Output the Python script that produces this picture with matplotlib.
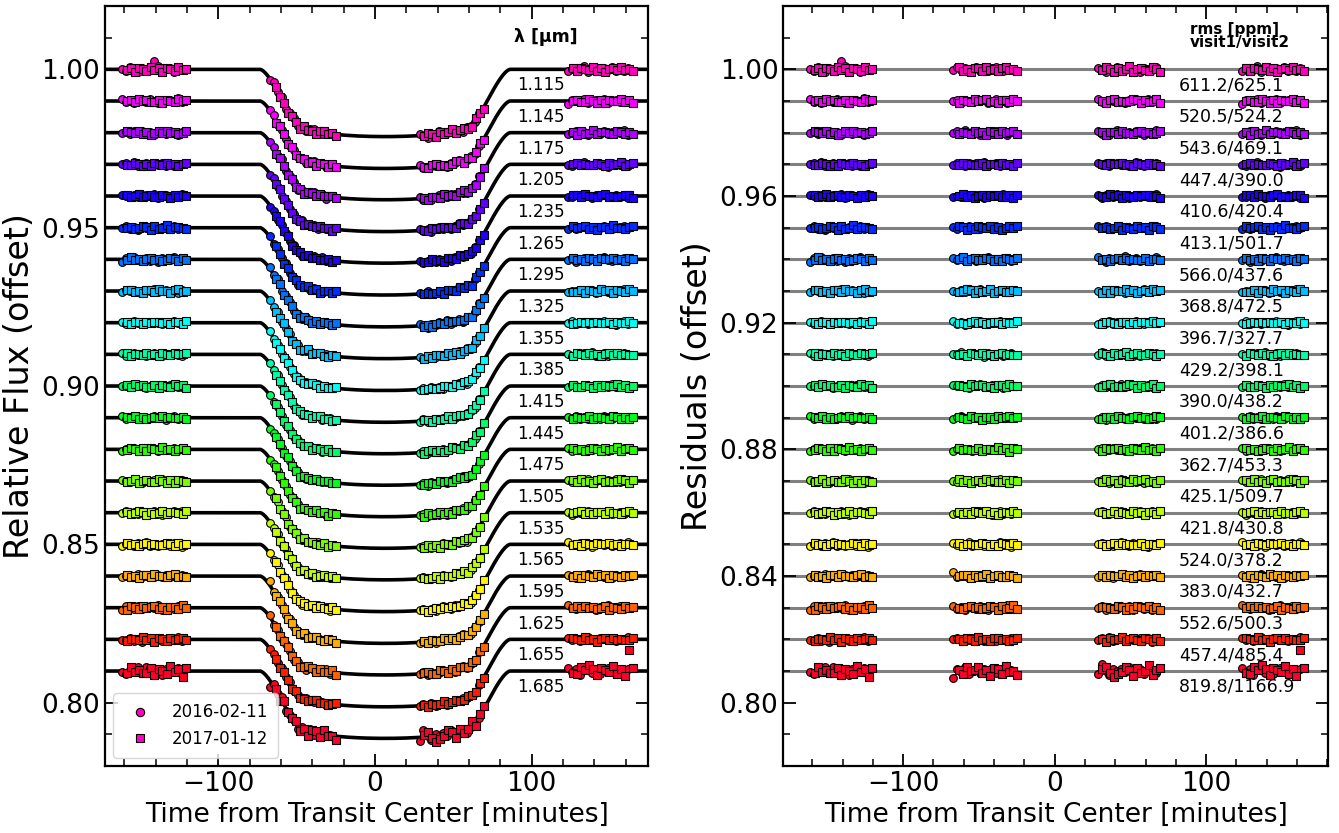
import numpy as np
import matplotlib
matplotlib.use("Agg")
import matplotlib.pyplot as plt
from matplotlib.ticker import MultipleLocator, FormatStrFormatter
from matplotlib.lines import Line2D

# ---------------- data ----------------
wavelengths = ["1.115", "1.145", "1.175", "1.205", "1.235", "1.265", "1.295",
               "1.325", "1.355", "1.385", "1.415", "1.445", "1.475", "1.505",
               "1.535", "1.565", "1.595", "1.625", "1.655", "1.685"]
# channel offsets (top channel is 1.00)
offsets = [1.00, 0.99, 0.98, 0.97, 0.96, 0.95, 0.94, 0.93, 0.92, 0.91, 0.90,
           0.89, 0.88, 0.87, 0.86, 0.85, 0.84, 0.83, 0.82, 0.81]
# planet-to-star radius ratio for each channel (read from transit depth)
rp_rs = [0.1400, 0.1402, 0.1398, 0.1400, 0.1399, 0.1401, 0.1403, 0.1404,
         0.1406, 0.1407, 0.1405, 0.1403, 0.1401, 0.1400, 0.1399, 0.1400,
         0.1401, 0.1400, 0.1402, 0.1401]
rms_v1 = [611.2, 520.5, 543.6, 447.4, 410.6, 413.1, 566.0, 368.8, 396.7, 429.2,
          390.0, 401.2, 362.7, 425.1, 421.8, 524.0, 383.0, 552.6, 457.4, 819.8]
rms_v2 = [625.1, 524.2, 469.1, 390.0, 420.4, 501.7, 437.6, 472.5, 327.7, 398.1,
          438.2, 386.6, 453.3, 509.7, 430.8, 378.2, 432.7, 500.3, 485.4, 1166.9]
rms_labels = ["611.2/625.1", "520.5/524.2", "543.6/469.1", "447.4/390.0",
              "410.6/420.4", "413.1/501.7", "566.0/437.6", "368.8/472.5",
              "396.7/327.7", "429.2/398.1", "390.0/438.2", "401.2/386.6",
              "362.7/453.3", "425.1/509.7", "421.8/430.8", "524.0/378.2",
              "383.0/432.7", "552.6/500.3", "457.4/485.4", "819.8/1166.9"]

# exposure times [minutes from transit centre]
t_visit1 = [-161.5, -159.0, -156.4, -153.9, -151.3, -148.8, -146.2, -143.7,
            -141.1, -138.6, -136.0, -133.5, -130.9, -128.4, -125.8, -123.3,
            -67.0, -64.5, -61.9, -59.4, -56.8, -54.3, -51.7, -49.2,
            -46.6, -44.1, -41.5, -39.0, -36.4, -33.9, -31.3, -28.8,
            28.5, 31.0, 33.6, 36.1, 38.7, 41.2, 43.8, 46.3,
            48.9, 51.4, 54.0, 56.5, 59.1, 61.6, 64.2, 66.7,
            123.5, 126.0, 128.6, 131.1, 133.7, 136.2, 138.8, 141.3,
            143.9, 146.4, 149.0, 151.5, 154.1, 156.6, 159.2, 161.7]
t_visit2 = [-158.5, -156.0, -153.4, -150.9, -148.3, -145.8, -143.2, -140.7,
            -138.1, -135.6, -133.0, -130.5, -127.9, -125.4, -122.8, -120.3,
            -63.0, -60.5, -57.9, -55.4, -52.8, -50.3, -47.7, -45.2,
            -42.6, -40.1, -37.5, -35.0, -32.4, -29.9, -27.3, -24.8,
            31.5, 34.0, 36.6, 39.1, 41.7, 44.2, 46.8, 49.3,
            51.9, 54.4, 57.0, 59.5, 62.1, 64.6, 67.2, 69.7,
            126.5, 129.0, 131.6, 134.1, 136.7, 139.2, 141.8, 144.3,
            146.9, 149.4, 152.0, 154.5, 157.1, 159.6, 162.2, 164.7]

# residual pattern (in units of the channel rms), estimated from the scatter
pattern_v1 = [0.3, -0.8, 1.1, 0.2, -1.4, 0.6, -0.1, 0.9, -0.5, 1.6, -0.9, 0.1, 0.7, -1.2, 0.4, -0.3,
              -0.6, 1.2, -0.2, 0.8, -1.5, 0.3, 1.0, -0.7, 0.2, -1.1, 0.5, 1.3, -0.4, -0.9, 0.6, 0.0,
              0.9, -0.3, -1.3, 0.5, 0.2, 1.4, -0.6, -0.2, 1.0, -0.8, 0.4, -1.6, 0.7, 0.1, -0.5, 1.1,
              -1.0, 0.4, 0.8, -0.3, 1.5, -1.2, 0.0, 0.6, -0.7, 0.9, -0.4, 1.2, -0.9, 0.3, -1.1, 0.5]
pattern_v2 = [-0.4, 0.9, -1.2, 0.5, 0.1, -0.7, 1.3, -0.2, 0.6, -1.5, 0.8, 0.3, -0.9, 1.1, -0.1, 0.4,
              1.0, -0.6, 0.2, -1.3, 0.7, 0.5, -0.8, 1.4, -0.3, 0.0, -1.0, 0.6, 1.2, -0.5, 0.3, -0.9,
              -0.2, 1.1, 0.4, -1.4, 0.8, -0.6, 0.1, 1.5, -1.1, 0.3, 0.7, -0.4, -0.8, 1.0, 0.2, -1.2,
              0.6, -1.0, 0.9, 0.2, -0.3, 1.3, -0.7, 0.5, -1.4, 0.0, 0.8, -0.5, 1.1, -0.2, 0.4, -0.6]
# individual outliers: (channel, visit, exposure index, residual)
outliers = [(0, 1, 8, 0.0025), (19, 2, 62, 0.0065), (19, 1, 16, -0.0022),
            (19, 1, 32, -0.0010), (19, 1, 33, 0.0022), (19, 2, 35, -0.0020),
            (19, 2, 52, 0.0018), (19, 1, 6, 0.0012), (16, 1, 16, 0.0013)]

# transit model parameters
t_mid = 6.5        # minutes
half_t14 = 79.8    # minutes
impact = 0.5
ld_u1, ld_u2 = 0.22, 0.22


def transit_model(t, p):
    t = np.atleast_1d(np.asarray(t, float))
    x = (t - t_mid) / half_t14 * np.sqrt((1 + p) ** 2 - impact ** 2)
    z = np.sqrt(x ** 2 + impact ** 2)
    n = 1500
    r = (np.arange(n) + 0.5) / n
    dr = 1.0 / n
    mu = np.sqrt(1 - r ** 2)
    inten = 1 - ld_u1 * (1 - mu) - ld_u2 * (1 - mu) ** 2
    w = inten * 2 * np.pi * r * dr
    total = w.sum()
    Z = z[:, None]
    R = r[None, :]
    cosang = np.clip((R ** 2 + Z ** 2 - p ** 2) / (2 * R * Z + 1e-12), -1, 1)
    frac = np.where(R + Z <= p, 1.0,
                    np.where(np.abs(R - Z) >= p, 0.0, np.arccos(cosang) / np.pi))
    return 1 - (frac * w[None, :]).sum(axis=1) / total


# ---------------- figure ----------------
plt.rcParams['font.family'] = ['DejaVu Sans']
fig = plt.figure(figsize=(13.39, 8.33), dpi=100)
ax1 = fig.add_axes([0.0784, 0.0804, 0.4056, 0.9124])
ax2 = fig.add_axes([0.585, 0.0804, 0.407, 0.9124])

nch = len(offsets)
colors = plt.cm.gist_rainbow(np.linspace(1, 0, nch))
tv1 = np.array(t_visit1)
tv2 = np.array(t_visit2)
tgrid = np.linspace(-180, 180, 721)
MS = 5.6
MEW = 0.8

for i in range(nch):
    off = offsets[i]
    p = rp_rs[i]
    res1 = np.roll(np.array(pattern_v1), 5 * i) * rms_v1[i] * 1e-6
    res2 = np.roll(np.array(pattern_v2), 7 * i) * rms_v2[i] * 1e-6
    for (ch, v, k, val) in outliers:
        if ch == i:
            if v == 1:
                res1[k] = val
            else:
                res2[k] = val
    m1 = transit_model(tv1, p) - 1 + off
    m2 = transit_model(tv2, p) - 1 + off
    mgrid = transit_model(tgrid, p) - 1 + off

    ax1.plot(tgrid, mgrid, color='black', lw=2.6, zorder=2)
    ax1.plot(tv1, m1 + res1, 'o', ms=MS, mfc=colors[i], mec='black', mew=MEW, zorder=3)
    ax1.plot(tv2, m2 + res2, 's', ms=MS, mfc=colors[i], mec='black', mew=MEW, zorder=4)
    ax1.text(90.5, off - 0.005, wavelengths[i], fontsize=12, ha='left', va='center')

    ax2.axhline(off, color='gray', lw=2.2, zorder=1)
    ax2.plot(tv1, off + res1, 'o', ms=MS, mfc=colors[i], mec='black', mew=MEW, zorder=3)
    ax2.plot(tv2, off + res2, 's', ms=MS, mfc=colors[i], mec='black', mew=MEW, zorder=4)
    ax2.text(82.0, off - 0.005, rms_labels[i], fontsize=12.5, ha='left', va='center')

ax1.text(89.0, 1.0102, "λ [μm]", fontsize=12.5, fontweight='bold', ha='left', va='center')
ax2.text(89.5, 1.0104, "rms [ppm]\nvisit1/visit2", fontsize=11, fontweight='bold',
         ha='left', va='center', linespacing=0.85)

ax1.set_xlim(-172.3, 174.4)
ax2.set_xlim(-179.1, 180.6)
for ax in (ax1, ax2):
    ax.set_ylim(0.780, 1.020)
    ax.xaxis.set_major_locator(MultipleLocator(100))
    ax.xaxis.set_minor_locator(MultipleLocator(20))
    ax.yaxis.set_minor_locator(MultipleLocator(0.01))
    ax.tick_params(which='both', direction='in', top=True, right=True, labelsize=19)
    ax.tick_params(which='major', length=9, width=1.3)
    ax.tick_params(which='minor', length=5, width=1.1)
    for s in ax.spines.values():
        s.set_linewidth(1.6)
    ax.set_xlabel("Time from Transit Center [minutes]", fontsize=19)
ax1.yaxis.set_major_locator(MultipleLocator(0.05))
ax2.yaxis.set_major_locator(MultipleLocator(0.04))
ax1.yaxis.set_major_formatter(FormatStrFormatter('%.2f'))
ax2.yaxis.set_major_formatter(FormatStrFormatter('%.2f'))
ax1.set_ylabel("Relative Flux (offset)", fontsize=24, labelpad=4)
ax2.set_ylabel("Residuals (offset)", fontsize=24, labelpad=4)

handles = [Line2D([], [], ls='none', marker='o', ms=MS + 0.4, mfc=colors[0], mec='black', mew=MEW),
           Line2D([], [], ls='none', marker='s', ms=MS + 0.4, mfc=colors[0], mec='black', mew=MEW)]
ax1.legend(handles, ["2016-02-11", "2017-01-12"], loc='lower left', fontsize=12,
           handletextpad=0.9, borderpad=0.6)

fig.savefig("out.png", dpi=100)
